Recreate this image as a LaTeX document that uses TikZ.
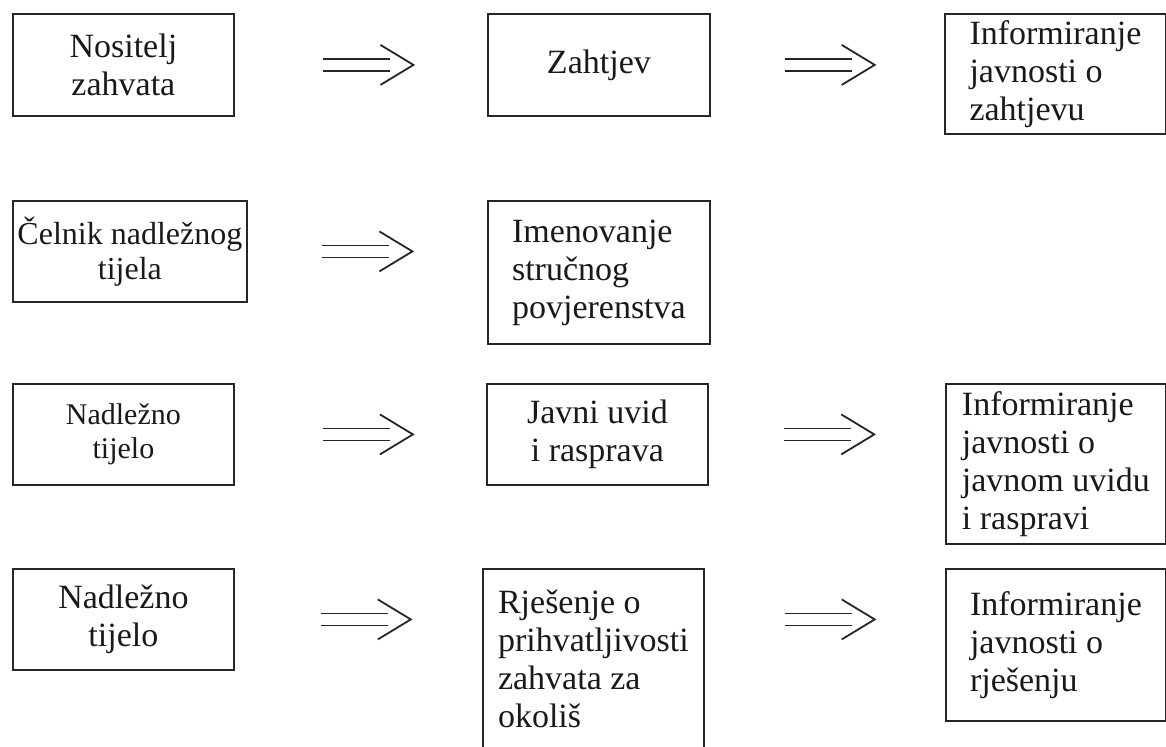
\documentclass[tikz,border=0pt]{standalone}
\usepackage{fontspec}
\setmainfont{Liberation Serif}

\tikzset{
  box/.style={draw=black!85, line width=0.9pt, anchor=north west,
    inner sep=2pt, text=black!90, font=\fontsize{17}{19}\selectfont},
  arrowline/.style={draw=black!85, line width=0.9pt},
  implies/.pic={
    \draw[arrowline] (-45,-6) -- (22,-6) (-45,6) -- (22,6);
    \draw[arrowline] (12,-20) -- (45,0) -- (12,20);
  }
}

\begin{document}
\begin{tikzpicture}[x=0.5pt, y=-0.5pt]
      % 1 px = 0.5pt
      \def\u{0.5pt}
      \clip (0,0) rectangle (1166,746);

      % 第一行
      \node[box, align=center, minimum width={221*\u}, minimum height={102*\u}]
          (nositelj) at (12,13) {Nositelj\\zahvata};
      \node[box, minimum width={222*\u}, minimum height={102*\u}]
          (zahtjev) at (487,13) {Zahtjev};
      \node[box, align=left, minimum width={221*\u}, minimum height={120*\u}]
          (infozahtjev) at (944,13) {Informiranje\\javnosti o\\zahtjevu};

      % 第二行
      \node[box, align=center, minimum width={234*\u}, minimum height={101*\u},
          font=\fontsize{16}{17.5}\selectfont]
          (celnik) at (12,200) {Čelnik nadležnog\\tijela};
      \node[box, align=left, minimum width={222*\u}, minimum height={143*\u}]
          (imenovanje) at (487,200) {Imenovanje\\stručnog\\povjerenstva};

      % 第三行
      \node[box, align=center, minimum width={221*\u}, minimum height={101*\u},
          font=\fontsize{15}{17}\selectfont]
          (tijeloa) at (12,383) {Nadležno\\tijelo};
      \node[box, align=center, minimum width={221*\u}, minimum height={101*\u}]
          (uvid) at (486,383) {Javni uvid\\i rasprava};
      \node[box, align=left, minimum width={220*\u}, minimum height={160*\u}]
          (infouvid) at (945,383) {Informiranje\\javnosti o\\javnom uvidu\\i raspravi};

      % 第四行
      \node[box, align=center, minimum width={221*\u}, minimum height={101*\u}]
          (tijelob) at (12,568) {Nadležno\\tijelo};
      \node[box, align=left, minimum width={221*\u}, minimum height={180*\u}]
          (rjesenje) at (482,568) {Rješenje o\\prihvatljivosti\\zahvata za\\okoliš};
      \node[box, align=left, minimum width={220*\u}, minimum height={152*\u}]
          (inforjesenje) at (945,568) {Informiranje\\javnosti o\\rješenju};

      % 双线箭头
      \path (nositelj.east) -- (nositelj.east -| zahtjev.west) coordinate[pos=.53] (a1);
      \path (zahtjev.east) -- (zahtjev.east -| infozahtjev.west) coordinate[pos=.51] (a2);
      \path (celnik.east) -- (celnik.east -| imenovanje.west) coordinate[pos=.5] (a3);
      \path (tijeloa.east) -- (tijeloa.east -| uvid.west) coordinate[pos=.53] (a4);
      \path (uvid.east) -- (uvid.east -| infouvid.west) coordinate[pos=.51] (a5);
      \path (tijelob.east) -- (tijelob.east -| rjesenje.west) coordinate[pos=.53] (a6);
      \path (rjesenje.east |- tijelob.east) -- (tijelob.east -| inforjesenje.west)
          coordinate[pos=.52] (a7);
      \foreach \a in {a1,a2,a3,a4,a5,a6,a7}
          \pic at (\a) {implies};
\end{tikzpicture}
\end{document}
